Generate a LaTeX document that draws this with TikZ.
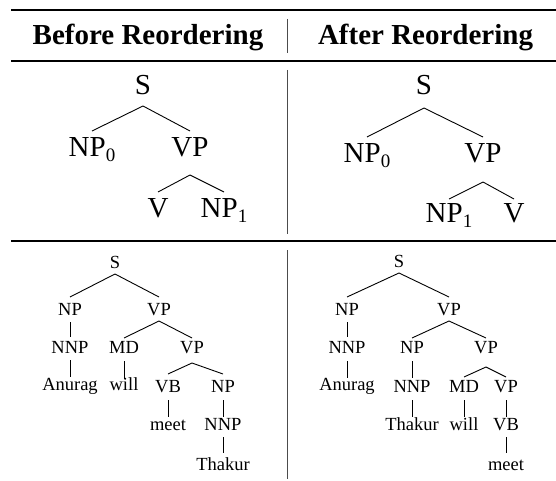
\documentclass[tikz,border=0pt]{standalone}
\usepackage{fontspec}
\setmainfont{Liberation Serif}
\newcommand\mysub[1]{\raisebox{-5pt}{\fontsize{19}{19}\selectfont #1}}
\newcommand\tedge[4]{\draw[treeline] ([yshift=-#3pt]#1.base) -- ([yshift=#4pt]#2.base);}
\begin{document}
\begin{tikzpicture}[x=1pt,y=-1pt,
  hdr/.style={anchor=base,inner sep=0pt,font=\fontsize{29}{29}\selectfont\bfseries},
  big/.style={anchor=base,inner sep=0pt,font=\fontsize{29}{29}\selectfont},
  sml/.style={anchor=base,inner sep=0pt,font=\fontsize{18.5}{18.5}\selectfont},
  treeline/.style={line width=0.9pt,black},
  sepline/.style={line width=1pt,black!70}]
\useasboundingbox (0,0) rectangle (556,481);
% rules
\draw[line width=1.6pt] (11,10) -- (556,10);
\draw[line width=1.1pt] (11,61) -- (556,61);
\draw[line width=1.4pt] (11,241) -- (556,241);
% separators
\draw[sepline] (287,19) -- (287,53);
\draw[sepline] (287,70) -- (287,234);
\draw[sepline] (287,250) -- (287,479);
% headers
\node[hdr] (h1) at (148,45) {Before Reordering};
\node[hdr] (h2) at (425.5,45) {After Reordering};
% top-left tree
\node[big] (tlS) at (143,95) {S};
\node[big] (tlNP) at (92,157) {NP\mysub{0}};
\node[big] (tlVP) at (190,157) {VP};
\node[big] (tlV) at (158,217) {V};
\node[big] (tlNPb) at (224,217) {NP\mysub{1}};
\tedge{tlS}{tlNP}{11}{26}
\tedge{tlS}{tlVP}{11}{26}
\tedge{tlVP}{tlV}{18}{25}
\tedge{tlVP}{tlNPb}{18}{25}
% top-right tree
\node[big] (trS) at (424,95) {S};
\node[big] (trNP) at (367,163) {NP\mysub{0}};
\node[big] (trVP) at (483,163) {VP};
\node[big] (trNPb) at (449,222) {NP\mysub{1}};
\node[big] (trV) at (514,222) {V};
\tedge{trS}{trNP}{13}{26}
\tedge{trS}{trVP}{13}{26}
\tedge{trVP}{trNPb}{19}{23}
\tedge{trVP}{trV}{19}{23}
% bottom-left tree
\node[sml] (blS) at (115,268) {S};
\node[sml] (blNP) at (70,315) {NP};
\node[sml] (blVP) at (159,315) {VP};
\node[sml] (blNNP) at (70,353) {NNP};
\node[sml] (blAn) at (70,390) {Anurag};
\node[sml] (blMD) at (124,353) {MD};
\node[sml] (blVPb) at (192,353) {VP};
\node[sml] (blwill) at (124,390) {will};
\node[sml] (blVB) at (168,392) {VB};
\node[sml] (blNPb) at (223,392) {NP};
\node[sml] (blmeet) at (168,430) {meet};
\node[sml] (blNNPb) at (223,430) {NNP};
\node[sml] (blTh) at (223,470) {Thakur};
\tedge{blS}{blNP}{6}{18}
\tedge{blS}{blVP}{6}{18}
\tedge{blNP}{blNNP}{7}{16}
\tedge{blNNP}{blAn}{7}{13}
\tedge{blVP}{blMD}{6}{15}
\tedge{blVP}{blVPb}{6}{15}
\tedge{blMD}{blwill}{8}{11}
\tedge{blVPb}{blVB}{10}{18}
\tedge{blVPb}{blNPb}{10}{18}
\tedge{blVB}{blmeet}{8}{13}
\tedge{blNPb}{blNNPb}{8}{13}
\tedge{blNNPb}{blTh}{7}{17}
% bottom-right tree
\node[sml] (brS) at (399,267) {S};
\node[sml] (brNP) at (347,315) {NP};
\node[sml] (brVP) at (449,315) {VP};
\node[sml] (brNNP) at (347,353) {NNP};
\node[sml] (brAn) at (347,390) {Anurag};
\node[sml] (brNPb) at (412,353) {NP};
\node[sml] (brVPb) at (486,353) {VP};
\node[sml] (brNNPb) at (412,392) {NNP};
\node[sml] (brTh) at (412,430) {Thakur};
\node[sml] (brMD) at (464,392) {MD};
\node[sml] (brVPc) at (506,392) {VP};
\node[sml] (brwill) at (464,430) {will};
\node[sml] (brVB) at (506,430) {VB};
\node[sml] (brmeet) at (506,470) {meet};
\tedge{brS}{brNP}{6}{18}
\tedge{brS}{brVP}{6}{18}
\tedge{brNP}{brNNP}{7}{16}
\tedge{brNNP}{brAn}{8}{12}
\tedge{brVP}{brNPb}{6}{15}
\tedge{brVP}{brVPb}{6}{15}
\tedge{brNPb}{brNNPb}{8}{14}
\tedge{brNNPb}{brTh}{8}{13}
\tedge{brVPb}{brMD}{14}{15}
\tedge{brVPb}{brVPc}{14}{15}
\tedge{brMD}{brwill}{8}{13}
\tedge{brVPc}{brVB}{8}{13}
\tedge{brVB}{brmeet}{7}{17}
\end{tikzpicture}
\end{document}
